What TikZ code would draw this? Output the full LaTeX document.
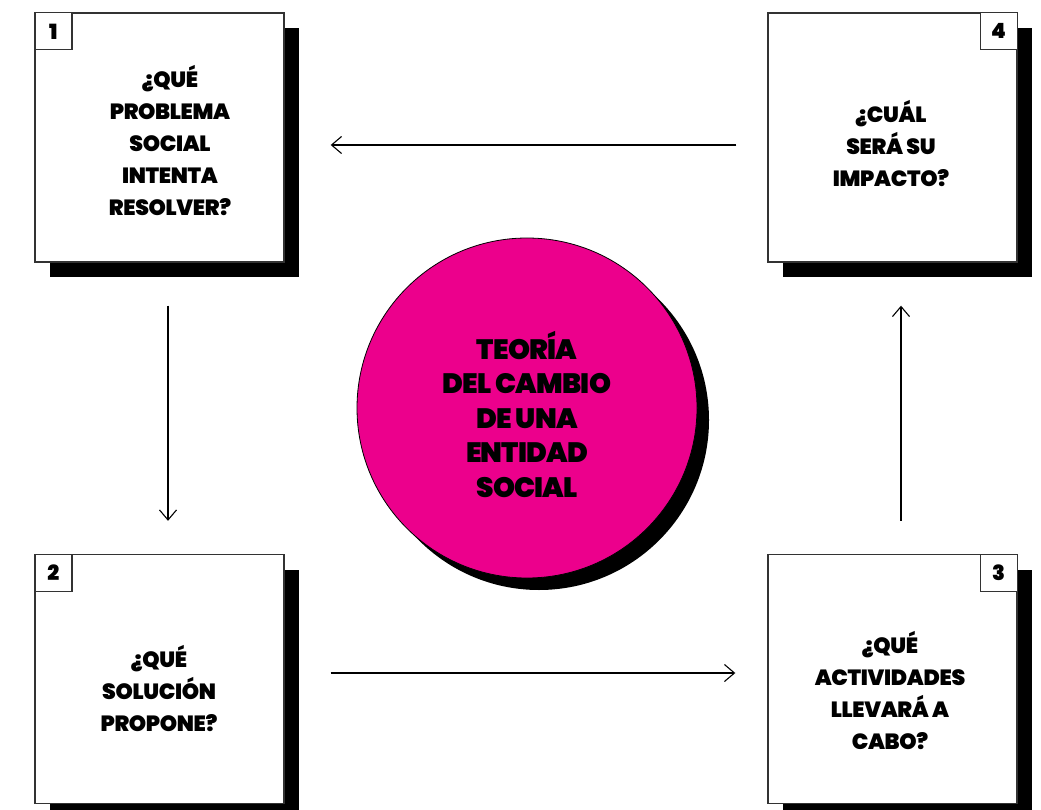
\documentclass[tikz,border=0pt]{standalone}
\usepackage{fontspec}
\setmainfont{Poppins}[BoldFont={Poppins Black}]
\newfontfamily\heavybox{Poppins Black}[LetterSpace=-1.5]
\newfontfamily\heavycirc{Poppins Black}[LetterSpace=-3]
\usetikzlibrary{arrows.meta,shadows}
\definecolor{magenta}{HTML}{EC008C}
\definecolor{edge}{HTML}{333333}
\begin{document}
\begin{tikzpicture}[x=1pt,y=-1pt,
  qbox/.style={draw=edge,line width=1.4pt,fill=white,minimum size=249pt,inner sep=0pt,
    drop shadow={shadow xshift=15pt,shadow yshift=-15pt,fill=black,opacity=1}},
  numbox/.style={draw=edge,line width=1.2pt,fill=white,minimum size=37pt,inner sep=0pt,
    font=\fontsize{21}{21}\selectfont\heavybox},
  qtext/.style={align=center,inner sep=0pt,font=\fontsize{22}{32}\selectfont\heavybox},
  ctext/.style={align=center,inner sep=0pt,font=\fontsize{28}{34.5}\selectfont\heavycirc},
  arr/.style={line width=1.1pt,-{Straight Barb[length=10pt,width=17pt,line width=1.1pt]}}]
\useasboundingbox[fill=white] (0,0) rectangle (1041,810);
% boxes
\node[qbox] (b1) at (159.5,137.5) {};
\node[qbox] (b2) at (159.5,679) {};
\node[qbox] (b3) at (892.5,679) {};
\node[qbox] (b4) at (892.5,137.5) {};
% number labels
\node[numbox,anchor=north west] (n1) at (b1.north west) {1};
\node[numbox,anchor=north west] (n2) at (b2.north west) {2};
\node[numbox,anchor=north east] (n3) at (b3.north east) {3};
\node[numbox,anchor=north east] (n4) at (b4.north east) {4};
% texts
\node[qtext] (t1) at (170,141) {¿QUÉ\\PROBLEMA\\SOCIAL\\INTENTA\\RESOLVER?};
\node[qtext] (t2) at (159,689) {¿QUÉ\\SOLUCIÓN\\PROPONE?};
\node[qtext] (t3) at (890,691) {¿QUÉ\\ACTIVIDADES\\LLEVARÁ A\\CABO?};
\node[qtext] (t4) at (891,144) {¿CUÁL\\SERÁ SU\\IMPACTO?};
% circle
\node[circle,draw=black,line width=0.8pt,fill=magenta,minimum size=340pt,inner sep=0pt,
  drop shadow={shadow xshift=12pt,shadow yshift=-12pt,fill=black,opacity=1}] (c) at (527,408) {};
\node[ctext] (ct) at (527,414) {TEORÍA\\DEL CAMBIO\\DE UNA\\ENTIDAD\\SOCIAL};
% arrows
\draw[arr,shorten <=31pt,shorten >=46pt] (b4.west |- 0,145) -- (b1.east |- 0,145);
\draw[arr,shorten <=43pt,shorten >=33pt] (b1.south -| 168,0) -- (b2.north -| 168,0);
\draw[arr,shorten <=46pt,shorten >=32pt] (b2.east |- 0,673) -- (b3.west |- 0,673);
\draw[arr,shorten <=33pt,shorten >=43pt] (b3.north -| 901,0) -- (b4.south -| 901,0);
\end{tikzpicture}
\end{document}
